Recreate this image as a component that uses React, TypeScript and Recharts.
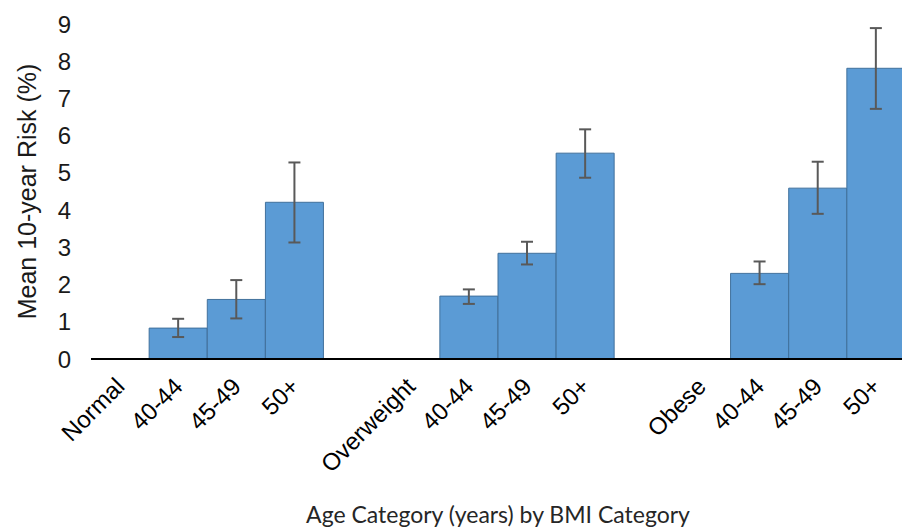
import React from 'react'
import { Bar, BarChart, ErrorBar, XAxis, YAxis } from 'recharts'

const categories = ['Normal', '40-44', '45-49', '50+', '', 'Overweight', '40-44', '45-49', '50+', '', 'Obese', '40-44', '45-49', '50+']
const meanRisk = [null, 0.83, 1.6, 4.21, null, null, 1.69, 2.84, 5.53, null, null, 2.3, 4.59, 7.81]
const lowerCI = [null, 0.59, 1.09, 3.13, null, null, 1.48, 2.54, 4.87, null, null, 2.01, 3.9, 6.72]
const upperCI = [null, 1.08, 2.12, 5.28, null, null, 1.87, 3.15, 6.17, null, null, 2.62, 5.3, 8.89]
const yTicks = [0, 1, 2, 3, 4, 5, 6, 7, 8, 9]

const data = categories.map((name, i) => {
  const m = meanRisk[i]
  return {
    name,
    mean: m,
    err: m == null ? null : [m - (lowerCI[i] as number), (upperCI[i] as number) - m],
  }
})

const AxisTick = ({ x, y, payload }: any) => (
  <text
    x={ 0 }
    y={ 0 }
    transform={ `translate(${ x + 6 },${ y + 21 }) rotate(-45)` }
    textAnchor="end"
    fontSize={ 24 }
    fontFamily="Liberation Sans, Arial, sans-serif"
    fill="#000"
  >
    { payload.value }
  </text>
)

const App = () => {
  return (
    <div style={ { position: 'absolute', left: 0, top: 0, width: 902, height: 529, overflow: 'hidden', background: '#fff' } }>
      <BarChart
        width={ 905 }
        height={ 529 }
        data={ data }
        margin={ { top: 24, right: 0, bottom: 0, left: 0 } }
        barCategoryGap={ 0 }
        barGap={ 0 }
      >
        <XAxis
          dataKey="name"
          interval={ 0 }
          height={ 170 }
          tickLine={ false }
          axisLine={ { stroke: '#000', strokeWidth: 2 } }
          tick={ <AxisTick /> }
          label={ {
            value: 'Age Category (years) by BMI Category',
            position: 'insideBottom',
            offset: 6,
            fontSize: 23,
            fontFamily: 'Lato, sans-serif',
            fill: '#262626',
          } }
        />
        <YAxis
          width={ 91 }
          domain={ [0, 9] }
          ticks={ yTicks }
          interval={ 0 }
          tickLine={ false }
          axisLine={ false }
          tickMargin={ 14 }
          tick={ { fontSize: 24, fontFamily: 'Liberation Sans, Arial, sans-serif', fill: '#1a1a1a' } }
          label={ {
            value: 'Mean 10-year Risk (%)',
            angle: -90,
            position: 'insideLeft',
            offset: 27,
            style: { textAnchor: 'middle' },
            fontSize: 25,
            fontFamily: 'Liberation Sans, Arial, sans-serif',
            fill: '#1a1a1a',
          } }
        />
        <Bar dataKey="mean" fill="#5B9BD5" stroke="#41719C" strokeWidth={ 1 } isAnimationActive={ false }>
          <ErrorBar dataKey="err" width={ 6 } stroke="#595959" strokeWidth={ 2 } direction="y" />
        </Bar>
      </BarChart>
    </div>
  )
}

export default App
